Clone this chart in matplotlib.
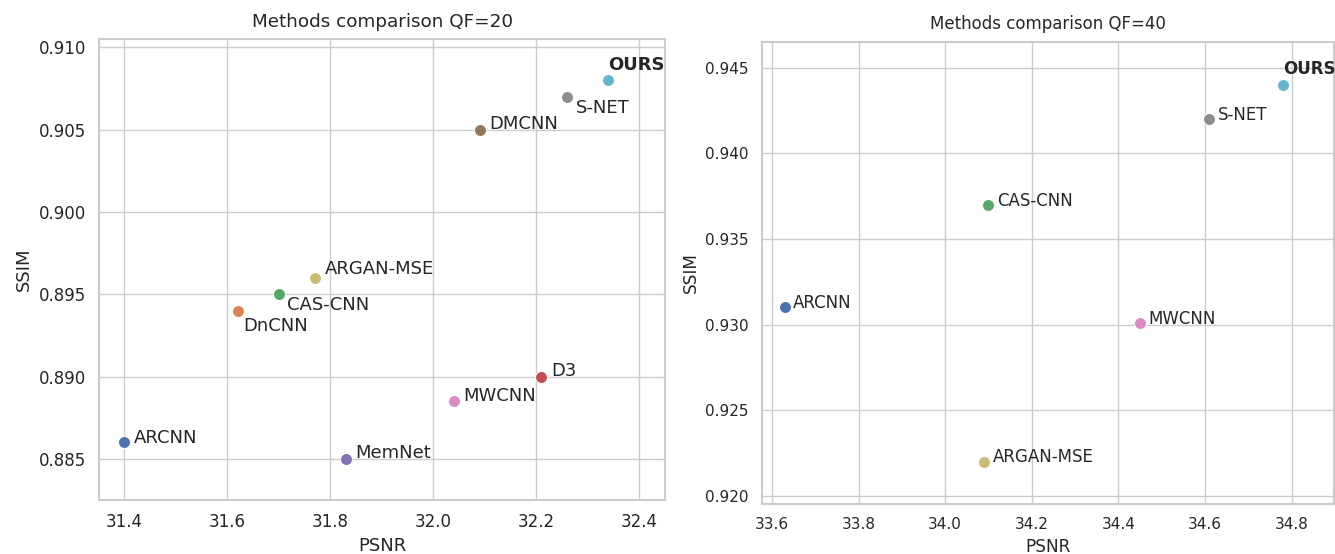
import matplotlib
matplotlib.use('Agg')
import matplotlib.pyplot as plt
import seaborn as sns

sns.set_theme(style='whitegrid', palette='deep')
plt.rcParams['font.family'] = ['DejaVu Sans']

palette = sns.color_palette('deep')

# colour index per method, shared by both panels
method_colors = {
    'ARCNN': 0, 'DnCNN': 1, 'CAS-CNN': 2, 'D3': 3, 'MemNet': 4,
    'DMCNN': 5, 'MWCNN': 6, 'S-NET': 7, 'ARGAN-MSE': 8, 'OURS': 9,
}

# QF=20 results
methods_20 = ['ARCNN', 'DnCNN', 'CAS-CNN', 'D3', 'MemNet', 'DMCNN', 'MWCNN', 'S-NET', 'ARGAN-MSE', 'OURS']
psnr_20 = [31.40, 31.62, 31.70, 32.21, 31.83, 32.09, 32.04, 32.26, 31.77, 32.34]
ssim_20 = [0.886, 0.894, 0.895, 0.890, 0.885, 0.905, 0.8885, 0.907, 0.896, 0.908]

# QF=40 results
methods_40 = ['ARCNN', 'CAS-CNN', 'MWCNN', 'S-NET', 'ARGAN-MSE', 'OURS']
psnr_40 = [33.63, 34.10, 34.45, 34.61, 34.09, 34.78]
ssim_40 = [0.931, 0.937, 0.9301, 0.942, 0.922, 0.944]

# label offsets in points (dx, dy)
offsets_20 = {
    'ARCNN': (7, 3), 'DnCNN': (4, -11), 'CAS-CNN': (6, -8), 'D3': (7, 4),
    'MemNet': (7, 4), 'DMCNN': (7, 4), 'MWCNN': (7, 4), 'S-NET': (6, -8),
    'ARGAN-MSE': (7, 6), 'OURS': (0, 11),
}
offsets_40 = {
    'ARCNN': (6, 3), 'CAS-CNN': (6, 3), 'MWCNN': (6, 3), 'S-NET': (6, 3),
    'ARGAN-MSE': (6, 3), 'OURS': (0, 11),
}


def draw_panel(ax, methods, psnr, ssim, offsets, title, fs_text, fs_tick, fs_title, fs_label):
    for m, x, y in zip(methods, psnr, ssim):
        ax.scatter(x, y, s=75, color=palette[method_colors[m]],
                   edgecolor='white', linewidth=0.75, zorder=3)
        ax.annotate(m, (x, y), xytext=offsets[m], textcoords='offset points',
                    ha='left', va='center', fontsize=fs_text, color='.15',
                    fontweight='bold' if m == 'OURS' else 'normal')
    ax.set_title(title, fontsize=fs_title, color='.15', pad=9)
    ax.set_xlabel('PSNR', fontsize=fs_label)
    ax.set_ylabel('SSIM', fontsize=fs_label)
    ax.tick_params(labelsize=fs_tick)
    for s in ax.spines.values():
        s.set_linewidth(1.5)


fig = plt.figure(figsize=(13.35, 5.54), dpi=100)
ax1 = fig.add_axes([0.0742, 0.0975, 0.424, 0.832])
ax2 = fig.add_axes([0.5708, 0.0903, 0.4285, 0.834])

draw_panel(ax1, methods_20, psnr_20, ssim_20, offsets_20, 'Methods comparison QF=20', 13, 12, 13.2, 13)
ax1.set_xlim(31.351, 32.45)
ax1.set_ylim(0.8825, 0.9105)
ax1.set_xticks([31.4, 31.6, 31.8, 32.0, 32.2, 32.4])
ax1.set_yticks([0.885, 0.890, 0.895, 0.900, 0.905, 0.910])
ax1.yaxis.set_major_formatter(plt.FormatStrFormatter('%.3f'))
ax1.xaxis.set_major_formatter(plt.FormatStrFormatter('%.1f'))

draw_panel(ax2, methods_40, psnr_40, ssim_40, offsets_40, 'Methods comparison QF=40', 12, 11, 12, 12.2)
ax2.set_xlim(33.577, 34.898)
ax2.set_ylim(0.91953, 0.9465)
ax2.set_xticks([33.6, 33.8, 34.0, 34.2, 34.4, 34.6, 34.8])
ax2.set_yticks([0.920, 0.925, 0.930, 0.935, 0.940, 0.945])
ax2.yaxis.set_major_formatter(plt.FormatStrFormatter('%.3f'))
ax2.xaxis.set_major_formatter(plt.FormatStrFormatter('%.1f'))

fig.savefig('out.png', dpi=100)
